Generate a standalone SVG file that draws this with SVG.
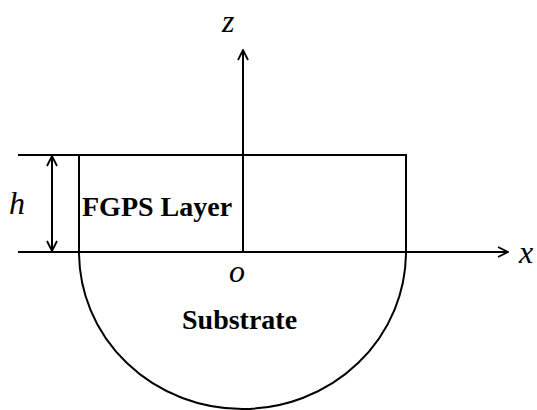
<svg xmlns="http://www.w3.org/2000/svg" width="537" height="410" viewBox="0 0 537 410">
<style>
.ln{stroke:#000;stroke-width:2;fill:none}
.lab{font-family:'Liberation Serif','DejaVu Serif',serif;font-weight:bold;font-size:28px;fill:#000}
.it{font-family:'Liberation Serif','DejaVu Serif',serif;font-style:italic;font-size:32px;fill:#000}
</style>
<defs>
<marker id="ah" viewBox="0 0 12 12" refX="11" refY="6" markerWidth="12" markerHeight="12" markerUnits="userSpaceOnUse" orient="auto-start-reverse">
<path d="M1,1 L11,6 L1,11" fill="none" stroke="#000" stroke-width="1.8"/>
</marker>
</defs>
<rect width="537" height="410" fill="#fff"/>
<g id="connectors">
<line class="ln" x1="18" y1="252" x2="508" y2="252" marker-end="url(#ah)"/>
<line class="ln" x1="243" y1="252" x2="243" y2="50" marker-end="url(#ah)"/>
<line class="ln" x1="18" y1="155" x2="79" y2="155"/>
<line class="ln" x1="52" y1="156" x2="52" y2="251" marker-start="url(#ah)" marker-end="url(#ah)"/>
</g>
<g id="layer">
<rect class="ln" x="79" y="155" width="327" height="97"/>
<text class="lab" x="82" y="216" font-family="Liberation Serif, serif">FGPS Layer</text>
</g>
<g id="substrate">
<path class="ln" d="M79,252 A163.5,157 0 0 0 406,252"/>
<text class="lab" x="182" y="329" font-family="Liberation Serif, serif">Substrate</text>
</g>
<g id="labels">
<text class="it" x="222" y="32">z</text>
<text class="it" x="519" y="263">x</text>
<text class="it" x="229" y="282">o</text>
<text class="it" x="9" y="214">h</text>
</g>
</svg>
